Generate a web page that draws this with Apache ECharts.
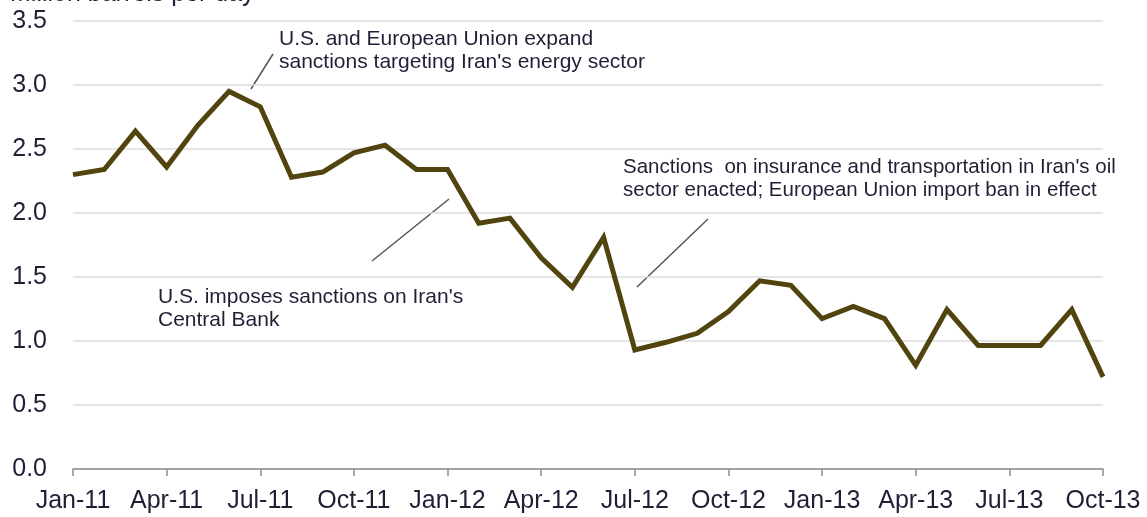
<!DOCTYPE html>
<html>
<head>
<meta charset="utf-8">
<script src="https://cdn.jsdelivr.net/npm/echarts@6/dist/echarts.min.js"></script>
<style>
  html, body { margin: 0; padding: 0; background: #fff; }
  #chart { width: 1147px; height: 517px; }
</style>
</head>
<body>
<div id="chart"></div>
<script>
// monthly categories, Jan-11 .. Oct-13
const months = [
  "Jan-11", "Feb-11", "Mar-11", "Apr-11", "May-11", "Jun-11", "Jul-11", "Aug-11", "Sep-11", "Oct-11", "Nov-11", "Dec-11",
  "Jan-12", "Feb-12", "Mar-12", "Apr-12", "May-12", "Jun-12", "Jul-12", "Aug-12", "Sep-12", "Oct-12", "Nov-12", "Dec-12",
  "Jan-13", "Feb-13", "Mar-13", "Apr-13", "May-13", "Jun-13", "Jul-13", "Aug-13", "Sep-13", "Oct-13"
];

// million barrels per day
const exports = [
  2.30, 2.34, 2.64, 2.36, 2.685, 2.95, 2.83, 2.28, 2.32, 2.47, 2.53, 2.34,
  2.34, 1.92, 1.96, 1.65, 1.42, 1.81, 0.93, 0.99, 1.06, 1.23, 1.47, 1.435,
  1.175, 1.27, 1.175, 0.81, 1.245, 0.965, 0.965, 0.965, 1.245, 0.72
];

const yTicks = [0, 0.5, 1.0, 1.5, 2.0, 2.5, 3.0, 3.5];

const notes = [
  "U.S. and European Union expand\nsanctions targeting Iran's energy sector",
  "U.S. imposes sanctions on Iran's\nCentral Bank",
  "Sanctions  on insurance and transportation in Iran's oil\nsector enacted; European Union import ban in effect"
];

const textColor = "#231e36";
const fontFamily = "Liberation Sans, Arial, sans-serif";

const chart = echarts.init(document.getElementById("chart"));

chart.setOption({
  animation: false,
  grid: { left: 73, right: 44, top: 21, bottom: 48, containLabel: false },
  xAxis: {
    type: "category",
    data: months,
    boundaryGap: false,
    axisLine: { lineStyle: { color: "#8c8c8c", width: 1.5 } },
    axisTick: { interval: 2, length: 7, lineStyle: { color: "#8c8c8c", width: 1.5 } },
    axisLabel: {
      interval: 2,
      margin: 20,
      color: textColor,
      fontSize: 25,
      fontFamily: fontFamily
    },
    splitLine: { show: false }
  },
  yAxis: {
    type: "value",
    min: yTicks[0],
    max: yTicks[yTicks.length - 1],
    interval: 0.5,
    axisLine: { show: false },
    axisTick: { show: false },
    axisLabel: {
      margin: 26,
      color: textColor,
      fontSize: 25,
      fontFamily: fontFamily,
      formatter: (v) => v.toFixed(1)
    },
    splitLine: { lineStyle: { color: "#dcdcdc", width: 1.5 } }
  },
  series: [
    {
      type: "line",
      data: exports,
      symbol: "none",
      lineStyle: { color: "#51440f", width: 5, join: "miter" },
      z: 3
    }
  ],
  graphic: [
    // title, mostly cut off at the top edge
    {
      type: "text", left: 10, top: -18,
      style: { text: "Million barrels per day", fill: textColor, fontSize: 25, fontFamily: fontFamily }
    },
    // annotations
    {
      type: "text", x: 279, y: 28,
      style: { text: notes[0], fill: textColor, fontSize: 21, lineHeight: 23, fontFamily: fontFamily }
    },
    {
      type: "text", x: 158, y: 286,
      style: { text: notes[1], fill: textColor, fontSize: 21, lineHeight: 23, fontFamily: fontFamily }
    },
    {
      type: "text", x: 623, y: 156,
      style: { text: notes[2], fill: textColor, fontSize: 20.5, lineHeight: 23, fontFamily: fontFamily }
    },
    // leader lines
    { type: "line", shape: { x1: 251, y1: 89, x2: 273, y2: 54 }, style: { stroke: "#555", lineWidth: 1.5 } },
    { type: "line", shape: { x1: 372, y1: 261, x2: 449, y2: 199 }, style: { stroke: "#555", lineWidth: 1.5 } },
    { type: "line", shape: { x1: 637, y1: 287, x2: 708, y2: 219 }, style: { stroke: "#555", lineWidth: 1.5 } }
  ]
});

window.addEventListener("resize", () => chart.resize());
</script>
</body>
</html>
